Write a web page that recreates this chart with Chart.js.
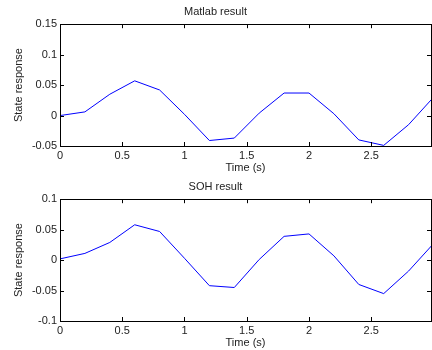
<!DOCTYPE html>
<html>
<head>
<meta charset="utf-8">
<script src="https://cdn.jsdelivr.net/npm/chart.js@4.4.1/dist/chart.umd.min.js"></script>
<style>
    html, body { margin: 0; padding: 0; background: #fff; }
    .panel { position: absolute; left: 0; width: 432px; height: 175px; }
    #top { top: 0; }
    #bottom { top: 175px; }
</style>
</head>
<body>
<div class="panel" id="top"><canvas id="matlabChart"></canvas></div>
<div class="panel" id="bottom"><canvas id="sohChart"></canvas></div>
<script>
// 時間軸 (s)
const timeValues = [0, 0.2, 0.4, 0.6, 0.8, 1.0, 1.2, 1.4, 1.6, 1.8, 2.0, 2.2, 2.4, 2.6, 2.8, 3.0];

// 状態応答 (上: Matlab, 下: SOH)
const matlabValues = [0, 0.006, 0.035, 0.057, 0.042, 0.002, -0.041, -0.037, 0.004, 0.037, 0.037, 0.003, -0.040, -0.049, -0.015, 0.030];
const sohValues = [0.002, 0.011, 0.029, 0.058, 0.047, 0.003, -0.042, -0.045, 0.001, 0.039, 0.043, 0.007, -0.040, -0.055, -0.018, 0.027];

// 目盛り
const xTicks = [0, 0.5, 1, 1.5, 2, 2.5];
const matlabYTicks = [-0.05, 0, 0.05, 0.1, 0.15];
const sohYTicks = [-0.1, -0.05, 0, 0.05, 0.1];

const FONT = { family: '"Liberation Sans", Arial, sans-serif', size: 11, weight: 'normal' };
const TEXT = '#222';

// 内向きの目盛り線と枠 (Matlab風)
const boxTicks = {
    id: 'boxTicks',
    afterDatasetsDraw(chart) {
        const { ctx, chartArea: a, scales } = chart;
        const len = 4;
        ctx.save();
        ctx.strokeStyle = '#000';
        ctx.lineWidth = 1;
        ctx.beginPath();
        scales.x.ticks.forEach(t => {
            const px = Math.round(scales.x.getPixelForValue(t.value)) + 0.5;
            ctx.moveTo(px, a.bottom); ctx.lineTo(px, a.bottom - len);
            ctx.moveTo(px, a.top); ctx.lineTo(px, a.top + len);
        });
        scales.y.ticks.forEach(t => {
            const py = Math.round(scales.y.getPixelForValue(t.value)) + 0.5;
            ctx.moveTo(a.left, py); ctx.lineTo(a.left + len, py);
            ctx.moveTo(a.right, py); ctx.lineTo(a.right - len, py);
        });
        ctx.stroke();
        ctx.strokeRect(Math.round(a.left) + 0.5, Math.round(a.top) + 0.5,
            Math.round(a.right - a.left), Math.round(a.bottom - a.top));
        ctx.restore();
    }
};

function fmt(v) {
    return String(Number(v.toFixed(2)));
}

// グラフ作成
function createChart(canvasId, title, values, yTicks) {
    const ctx = document.getElementById(canvasId).getContext('2d');
    new Chart(ctx, {
        type: 'line',
        data: {
            datasets: [{
                data: timeValues.map((t, i) => ({ x: t, y: values[i] })),
                borderColor: '#0000ff',
                borderWidth: 1,
                pointRadius: 0,
                tension: 0
            }]
        },
        options: {
            responsive: true,
            maintainAspectRatio: false,
            animation: false,
            layout: { padding: { left: 0, right: 1, top: 0, bottom: 0 } },
            plugins: {
                legend: { display: false },
                tooltip: { enabled: false },
                title: {
                    display: true,
                    text: title,
                    color: TEXT,
                    font: FONT,
                    padding: { top: 5, bottom: 6 }
                }
            },
            scales: {
                x: {
                    type: 'linear',
                    min: 0,
                    max: 2.98,
                    afterBuildTicks: s => { s.ticks = xTicks.map(v => ({ value: v })); },
                    afterFit: s => { s.height = 29; },
                    grid: { display: false, drawTicks: false },
                    border: { display: false },
                    ticks: { color: TEXT, font: FONT, padding: 3, maxRotation: 0, callback: v => fmt(v) },
                    title: { display: true, text: 'Time (s)', color: TEXT, font: FONT, padding: 0 }
                },
                y: {
                    min: yTicks[0],
                    max: yTicks[yTicks.length - 1],
                    afterBuildTicks: s => { s.ticks = yTicks.map(v => ({ value: v })); },
                    afterFit: s => { s.width = 60; },
                    grid: { display: false, drawTicks: false },
                    border: { display: false },
                    ticks: { color: TEXT, font: FONT, padding: 3, callback: v => fmt(v) },
                    title: { display: true, text: 'State response', color: TEXT, font: FONT, padding: { top: 12, bottom: 0 } }
                }
            }
        },
        plugins: [boxTicks]
    });
}

createChart('matlabChart', 'Matlab result', matlabValues, matlabYTicks);
createChart('sohChart', 'SOH result', sohValues, sohYTicks);
</script>
</body>
</html>
